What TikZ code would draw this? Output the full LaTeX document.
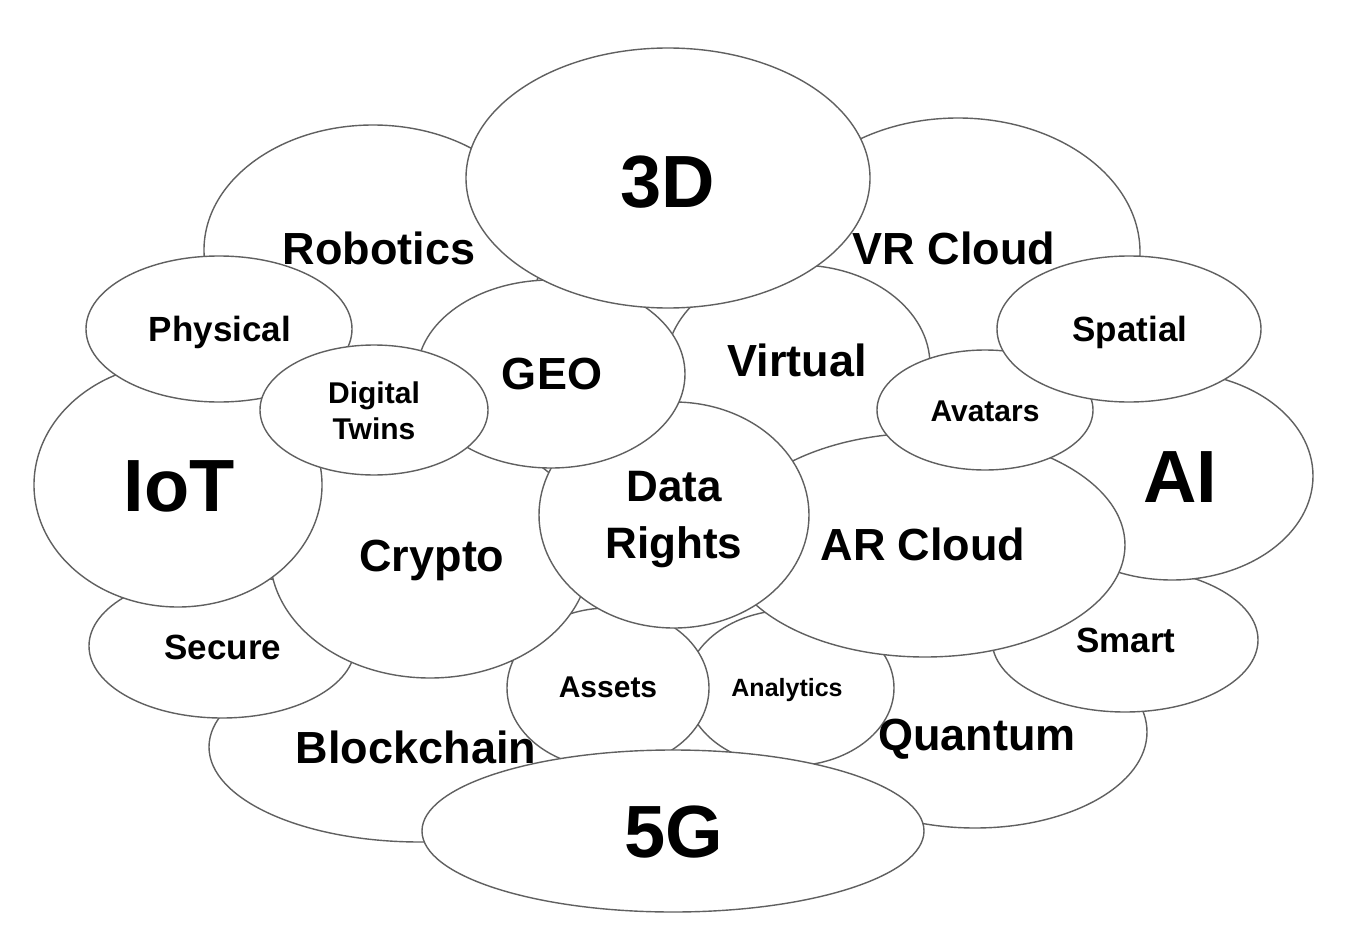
\documentclass[tikz,border=0pt]{standalone}
\usepackage{fontspec}
\setmainfont{Liberation Sans}
\usetikzlibrary{shapes.geometric}
\definecolor{edge}{RGB}{96,96,96}
\begin{document}
\begin{tikzpicture}[x=1pt,y=-1pt,
  bub/.style={ellipse, draw=edge, fill=white, line width=1.4pt, inner sep=0pt, outer sep=0pt},
  lbl/.style={inner sep=0pt, outer sep=0pt, text=black},
  big/.style={lbl, font=\fontsize{74}{80}\selectfont\bfseries, text height=53pt, text depth=0pt},
  mid/.style={lbl, font=\fontsize{45}{54}\selectfont\bfseries, text height=32pt, text depth=0pt},
  sml/.style={lbl, font=\fontsize{35}{42}\selectfont\bfseries, text height=25pt, text depth=0pt},
  xsm/.style={lbl, font=\fontsize{30}{36}\selectfont\bfseries, text height=21.5pt, text depth=0pt},
  tiny/.style={lbl, font=\fontsize{25}{30}\selectfont\bfseries, text height=18pt, text depth=0pt}]
\path[use as bounding box, fill=white] (0,0) rectangle (1345,950);

% ellipses, back to front
\node[bub, minimum width=338pt, minimum height=250pt] (robotics) at (373,250) {};
\node[bub, minimum width=364pt, minimum height=268pt] (vrcloud) at (958,252) {};
\node[bub, minimum width=264pt, minimum height=200pt] (virtual) at (798,365) {};
\node[bub, minimum width=344pt, minimum height=192pt] (quantum) at (975,732) {};
\node[bub, minimum width=266pt, minimum height=144pt] (smart) at (1125,640) {};
\node[bub, minimum width=282pt, minimum height=208pt] (ai) at (1172,476) {};
\node[bub, minimum width=422pt, minimum height=190pt] (blockchain) at (420,747) {};
\node[bub, minimum width=266pt, minimum height=144pt] (secure) at (222,646) {};
\node[bub, minimum width=208pt, minimum height=156pt] (analytics) at (790,688) {};
\node[bub, minimum width=202pt, minimum height=160pt] (assets) at (608,688) {};
\node[bub, minimum width=320pt, minimum height=246pt] (crypto) at (430,555) {};
\node[bub, minimum width=400pt, minimum height=224pt] (arcloud) at (925,545) {};
\node[bub, minimum width=270pt, minimum height=226pt] (datarights) at (674,515) {};
\node[bub, minimum width=268pt, minimum height=188pt] (geo) at (551,374) {};
\node[bub, minimum width=288pt, minimum height=244pt] (iot) at (178,485) {};
\node[bub, minimum width=266pt, minimum height=146pt] (physical) at (219,329) {};
\node[bub, minimum width=228pt, minimum height=130pt] (digitaltwins) at (374,410) {};
\node[bub, minimum width=404pt, minimum height=260pt] (threeD) at (668,178) {};
\node[bub, minimum width=216pt, minimum height=120pt] (avatars) at (985,410) {};
\node[bub, minimum width=264pt, minimum height=146pt] (spatial) at (1129,329) {};
\node[bub, minimum width=502pt, minimum height=162pt] (fiveG) at (673,831) {};

% labels
\node[mid] (robotics-t) at (379,248) {Robotics};
\node[mid] (vrcloud-t) at (954,248) {VR Cloud};
\node[big] (threeD-t) at (668,181) {3D};
\node[sml] (physical-t) at (220,329) {Physical};
\node[sml] (spatial-t) at (1130,329) {Spatial};
\node[mid] (geo-t) at (552,373) {GEO};
\node[mid] (virtual-t) at (797,360) {Virtual};
\node[lbl, font=\fontsize{30}{36}\selectfont\bfseries, align=center] (digitaltwins-t) at (374,411) {Digital\\Twins};
\node[xsm] (avatars-t) at (985,411) {Avatars};
\node[big] (iot-t) at (179,485) {IoT};
\node[big] (ai-t) at (1180,476) {AI};
\node[mid] (crypto-t) at (432,555) {Crypto};
\node[lbl, font=\fontsize{44}{57}\selectfont\bfseries, align=center] (datarights-t) at (674,520) {Data\\Rights};
\node[mid] (arcloud-t) at (923,544) {AR Cloud};
\node[sml] (secure-t) at (223,647) {Secure};
\node[sml] (smart-t) at (1126,640) {Smart};
\node[xsm] (assets-t) at (608,687) {Assets};
\node[tiny] (analytics-t) at (787,687) {Analytics};
\node[mid] (blockchain-t) at (416,747) {Blockchain};
\node[mid] (quantum-t) at (977,734) {Quantum};
\node[big] (fiveG-t) at (674,831) {5G};
\end{tikzpicture}
\end{document}
